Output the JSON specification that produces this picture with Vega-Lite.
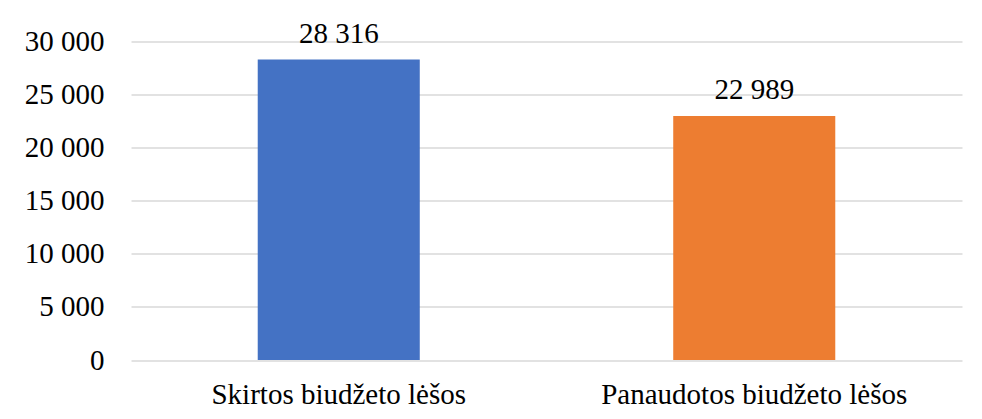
{
  "$schema": "https://vega.github.io/schema/vega-lite/v6.json",
  "autosize": {"type": "none"},
  "width": 831,
  "height": 318.5,
  "padding": {"left": 131, "top": 41.5, "right": 20, "bottom": 59},
  "background": "white",
  "config": {
    "view": {"stroke": null},
    "font": "Liberation Serif",
    "locale": {"number": {"decimal": ",", "thousands": " ", "grouping": [3], "currency": ["", ""]}}
  },
  "data": {
    "values": [
      {"category": "Skirtos biudžeto lėšos", "value": 28316},
      {"category": "Panaudotos biudžeto lėšos", "value": 22989}
    ]
  },
  "encoding": {
    "x": {
      "field": "category",
      "type": "nominal",
      "sort": null,
      "scale": {"paddingInner": 0.61, "paddingOuter": 0.305},
      "axis": {
        "title": null,
        "labelAngle": 0,
        "labelFont": "Liberation Serif",
        "labelFontSize": 29,
        "labelColor": "black",
        "labelPadding": 20,
        "labelLimit": 0,
        "ticks": false,
        "domain": false
      }
    },
    "y": {
      "field": "value",
      "type": "quantitative",
      "scale": {"domain": [0, 30000], "nice": false},
      "axis": {
        "title": null,
        "values": [0, 5000, 10000, 15000, 20000, 25000, 30000],
        "format": ",d",
        "labelFont": "Liberation Serif",
        "labelFontSize": 29,
        "labelColor": "black",
        "labelPadding": 27,
        "labelLimit": 0,
        "ticks": false,
        "domain": false,
        "gridColor": "#d9d9d9",
        "gridWidth": 1.5
      }
    }
  },
  "layer": [
    {
      "mark": {"type": "bar"},
      "encoding": {
        "color": {
          "field": "category",
          "type": "nominal",
          "sort": null,
          "scale": {"range": ["#4472C4", "#ED7D31"]},
          "legend": null
        }
      }
    },
    {
      "mark": {"type": "text", "baseline": "alphabetic", "dy": -16.5, "font": "Liberation Serif", "fontSize": 29, "color": "black"},
      "encoding": {
        "text": {"field": "value", "type": "quantitative", "format": ",d"}
      }
    }
  ]
}
